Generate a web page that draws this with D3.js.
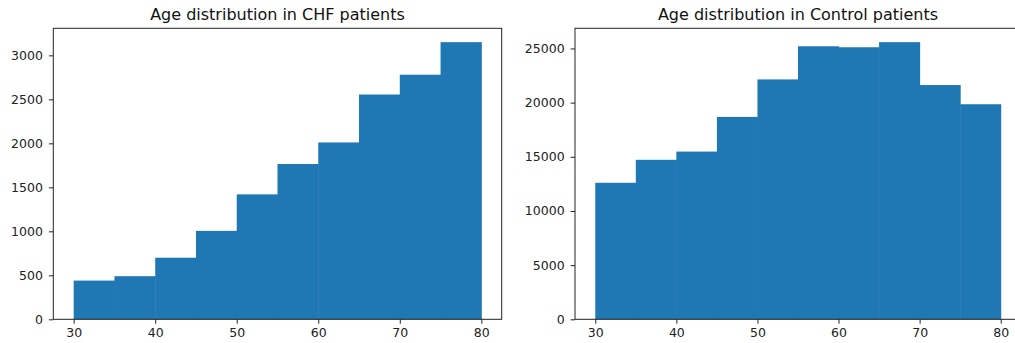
<!DOCTYPE html>
<html>
<head>
<meta charset="utf-8">
<script src="https://cdn.jsdelivr.net/npm/d3@7"></script>
<style>
  html, body { margin: 0; padding: 0; background: #fff; overflow: hidden; }
  svg { display: block; font-family: "DejaVu Sans", sans-serif; }
</style>
</head>
<body>
<svg id="chart" width="1015" height="343"></svg>
<script>
// Bin edges (age)
const binEdges = [30, 35, 40, 45, 50, 55, 60, 65, 70, 75, 80];
// Counts per bin
const chfCounts = [440, 490, 700, 1005, 1420, 1765, 2010, 2555, 2780, 3150];
const controlCounts = [12600, 14720, 15480, 18680, 22140, 25200, 25110, 25580, 21620, 19850];
// Titles and ticks
const titles = ["Age distribution in CHF patients", "Age distribution in Control patients"];
const xTicks = [30, 40, 50, 60, 70, 80];
const chfYTicks = [0, 500, 1000, 1500, 2000, 2500, 3000];
const controlYTicks = [0, 5000, 10000, 15000, 20000, 25000];

const svg = d3.select("#chart");
const color = "#1f77b4";

function panel(x0, x1, y0, y1, counts, yTicks, title) {
  const bins = counts.map((c, i) => ({ lo: binEdges[i], hi: binEdges[i + 1], c }));
  const xmin = binEdges[0], xmax = binEdges[binEdges.length - 1];
  const xm = (xmax - xmin) * 0.05;
  const x = d3.scaleLinear().domain([xmin - xm, xmax + xm]).range([x0, x1]);
  const ymax = d3.max(counts) * 1.05;
  const y = d3.scaleLinear().domain([0, ymax]).range([y1, y0]);

  const g = svg.append("g");
  g.selectAll("rect.bar").data(bins).enter().append("rect")
    .attr("class", "bar")
    .attr("x", d => x(d.lo))
    .attr("width", d => x(d.hi) - x(d.lo) + 0.5)
    .attr("y", d => y(d.c))
    .attr("height", d => y(0) - y(d.c))
    .attr("fill", color);

  // frame
  g.append("rect").attr("x", x0).attr("y", y0).attr("width", x1 - x0).attr("height", y1 - y0)
    .attr("fill", "none").attr("stroke", "#222").attr("stroke-width", 1);

  const xa = g.append("g").attr("transform", `translate(0,${y1})`)
    .call(d3.axisBottom(x).tickValues(xTicks).tickSize(4.4).tickPadding(4).tickFormat(d3.format("d")));
  const ya = g.append("g").attr("transform", `translate(${x0},0)`)
    .call(d3.axisLeft(y).tickValues(yTicks).tickSize(4.4).tickPadding(6).tickFormat(d3.format("d")));
  [xa, ya].forEach(a => {
    a.select(".domain").remove();
    a.selectAll("line").attr("stroke", "#222").attr("stroke-width", 1);
    a.selectAll("text").attr("fill", "#222").style("font-size", "12.5px").style("font-family", "DejaVu Sans");
  });

  g.append("text").attr("x", (x0 + x1) / 2).attr("y", y0 - 8.3)
    .attr("text-anchor", "middle").attr("fill", "#111")
    .style("font-size", "16px").style("font-family", "DejaVu Sans")
    .text(title);
}

panel(53.3, 501.7, 28.3, 319.3, chfCounts, chfYTicks, titles[0]);
panel(575, 1021, 28.3, 319.3, controlCounts, controlYTicks, titles[1]);
</script>
</body>
</html>
